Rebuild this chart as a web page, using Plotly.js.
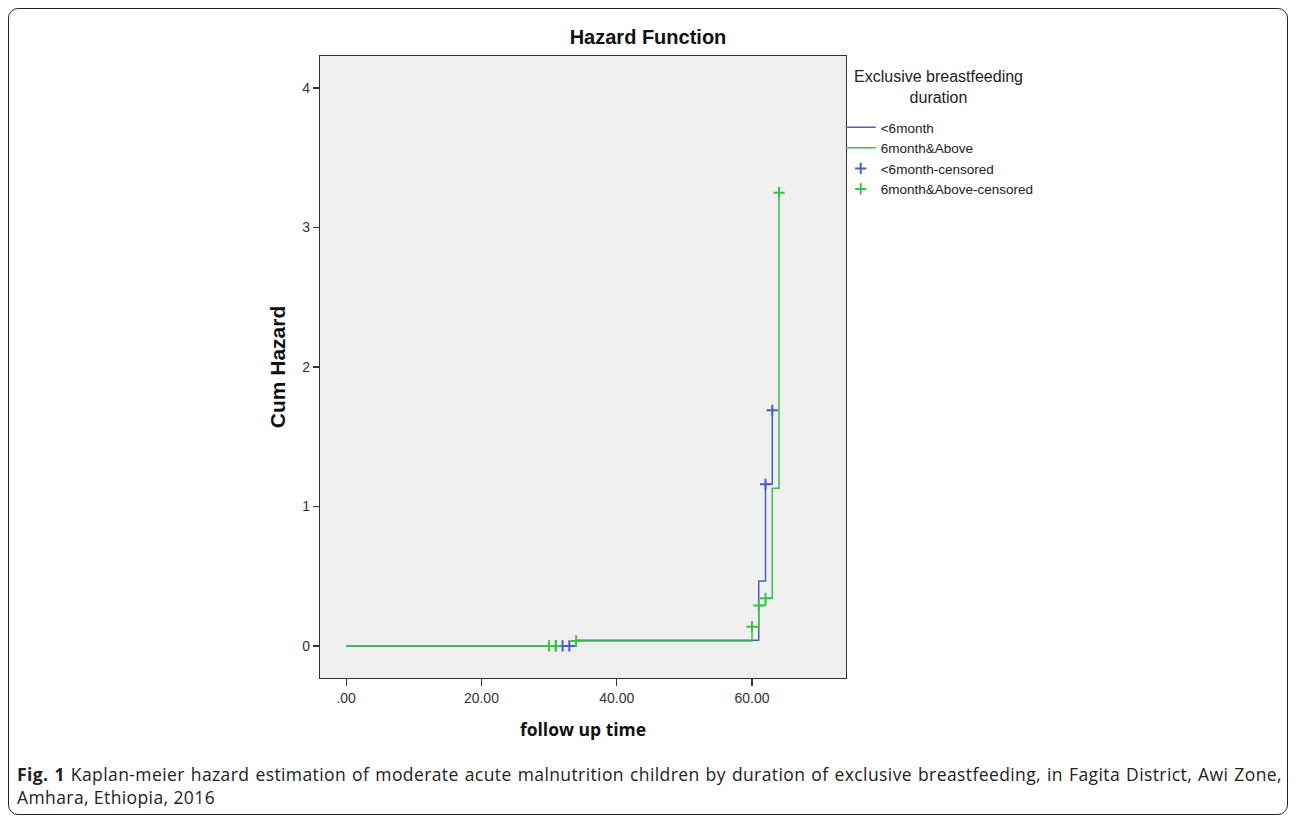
<!DOCTYPE html>
<html>
<head>
<meta charset="utf-8">
<script src="https://cdn.plot.ly/plotly-3.0.1.min.js"></script>
<style>
  html, body { margin: 0; padding: 0; background: #fff; }
  #wrap { position: relative; width: 1296px; height: 824px; }
  #chart { position: absolute; left: 0; top: 0; width: 1296px; height: 824px; }
  #frame { position: absolute; left: 8px; top: 8px; width: 1278px; height: 805px;
           border: 1.5px solid #222; border-radius: 10px; pointer-events: none; }
  #caption { position: absolute; left: 17px; top: 763px; width: 1265px;
             font-family: 'Open Sans', sans-serif; font-size: 17.5px; line-height: 23px;
             letter-spacing: 0.4px; color: #222; }
  #caption .l1 { text-align: justify; text-align-last: justify; white-space: nowrap; }
  #caption b { font-weight: 700; }
</style>
</head>
<body>
<div id="wrap">
  <div id="chart"></div>
  <div id="frame"></div>
  <div id="caption"><div class="l1"><b>Fig. 1</b> Kaplan-meier hazard estimation of moderate acute malnutrition children by duration of exclusive breastfeeding, in Fagita District, Awi Zone,</div><div>Amhara, Ethiopia, 2016</div></div>
</div>
<script>
// Step curves (cumulative hazard)
const under6Time = [0, 34, 61, 62, 63];
const under6Hazard = [0, 0.04, 0.466, 1.159, 1.69];
const above6Time = [0, 34, 60, 61, 62, 63, 64];
const above6Hazard = [0, 0.036, 0.138, 0.289, 0.342, 1.13, 3.25];

// Censored observations
const under6CensTime = [31, 32, 33, 62, 63];
const under6CensHazard = [0, 0, 0, 1.159, 1.69];
const above6CensTime = [30, 31, 34, 60, 61, 62, 64];
const above6CensHazard = [0, 0, 0.036, 0.138, 0.289, 0.342, 3.25];

const xTickVals = [0, 20, 40, 60];
const xTickText = ['.00', '20.00', '40.00', '60.00'];
const yTickVals = [0, 1, 2, 3, 4];
const yTickText = ['0', '1', '2', '3', '4'];

const legendTitle = 'Exclusive breastfeeding<br>duration';

const blue = '#4a5ec2';
const green = '#3fbf48';

const traces = [
  { x: under6Time, y: under6Hazard, type: 'scatter', mode: 'lines', name: '<6month',
    line: { color: blue, width: 1.5, shape: 'hv' } },
  { x: above6Time, y: above6Hazard, type: 'scatter', mode: 'lines', name: '6month&Above',
    line: { color: green, width: 1.5, shape: 'hv' } },
  { x: under6CensTime, y: under6CensHazard, type: 'scatter', mode: 'markers', name: '<6month-censored',
    marker: { symbol: 'cross-thin', size: 8, line: { color: blue, width: 2 } } },
  { x: above6CensTime, y: above6CensHazard, type: 'scatter', mode: 'markers', name: '6month&Above-censored',
    marker: { symbol: 'cross-thin', size: 8, line: { color: green, width: 2 } } }
];

const fontMain = 'Liberation Sans, Arial, sans-serif';

const layout = {
  width: 1296, height: 824,
  margin: { l: 320, r: 450, t: 56, b: 146 },
  paper_bgcolor: 'rgba(0,0,0,0)',
  plot_bgcolor: '#f0f0f0',
  showlegend: true,
  title: { text: '<b>Hazard Function</b>', font: { family: fontMain, size: 20, color: '#111' },
           x: 0.5, xref: 'container', y: 1 - 37/824, yref: 'container', yanchor: 'middle', xanchor: 'center' },
  xaxis: {
    range: [-3.86, 73.9], tickvals: xTickVals, ticktext: xTickText,
    ticks: 'outside', ticklen: 7, tickcolor: '#333', tickwidth: 1.2,
    showline: true, linecolor: '#333', linewidth: 1.2, mirror: true,
    showgrid: false, zeroline: false,
    tickfont: { family: fontMain, size: 14, color: '#333' },
    title: { text: '<b>follow up time</b>', font: { family: 'Open Sans, sans-serif', size: 17.5, color: '#111' }, standoff: 18 }
  },
  yaxis: {
    range: [-0.23, 4.23], tickvals: yTickVals, ticktext: yTickText,
    ticks: 'outside', ticklen: 6, tickcolor: '#333', tickwidth: 1.2,
    showline: true, linecolor: '#333', linewidth: 1.2, mirror: true,
    showgrid: false, zeroline: false,
    tickfont: { family: fontMain, size: 14, color: '#333' },
    title: { text: '<b>Cum Hazard</b>', font: { family: fontMain, size: 21, color: '#111' }, standoff: 10 }
  },
  legend: {
    x: 0.99, xanchor: 'left', y: (678 - 112) / 622, yanchor: 'top',
    bgcolor: 'rgba(0,0,0,0)',
    font: { family: fontMain, size: 13.5, color: '#222' },
    itemwidth: 30, tracegroupgap: 0
  },
  annotations: [
    { text: legendTitle, xref: 'paper', yref: 'paper',
      x: (938 - 320) / 526, y: (678 - 87) / 622, xanchor: 'center', yanchor: 'middle',
      showarrow: false, align: 'center',
      font: { family: fontMain, size: 16, color: '#222' } }
  ]
};

Plotly.newPlot('chart', traces, layout, { displayModeBar: false, staticPlot: true });
</script>
</body>
</html>
